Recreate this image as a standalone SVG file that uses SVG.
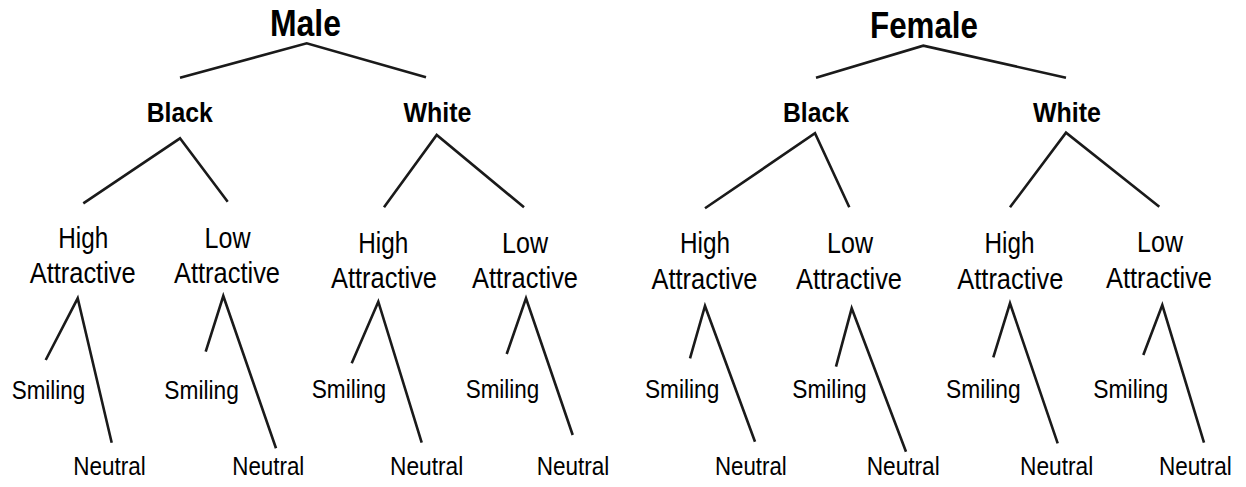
<svg xmlns="http://www.w3.org/2000/svg" width="1246" height="487" viewBox="0 0 1246 487">
<style>
text{font-family:"Liberation Sans",Arial,Helvetica,sans-serif;fill:#000}
.t1{font-size:36px;font-weight:bold;text-anchor:middle}
.t2{font-size:28px;font-weight:bold;text-anchor:middle}
.t3{font-size:29px;text-anchor:middle}
.t4{font-size:26px}
#connectors polyline{fill:none;stroke:#1a1a1a;stroke-width:2.6;stroke-linejoin:miter;stroke-linecap:butt}
</style>
<rect width="1246" height="487" fill="#fff"/>
<g id="connectors">
<polyline points="180,77.7 306.7,43.3 426,77.3"/>
<polyline points="816,77.7 923.3,45.7 1066,77.7"/>
<polyline points="83.3,203.3 180,138.3 227.7,201.7"/>
<polyline points="384,207.3 436.7,135 524,207.3"/>
<polyline points="705,208.3 815,133.3 849.3,207.3"/>
<polyline points="1010,207.3 1066,132.7 1159.3,206.7"/>
<polyline points="45.7,360 77.7,298.3 111.7,442.7"/>
<polyline points="205.7,351.7 223.3,296 276,448.3"/>
<polyline points="351.7,363.3 378.3,301.7 421.7,442.7"/>
<polyline points="506.7,354 526,298.3 572.7,435"/>
<polyline points="690,358.3 705,306 755,441.7"/>
<polyline points="836,366.7 851.7,308.3 906,451.7"/>
<polyline points="993.3,357.3 1010,303.3 1057.7,443.3"/>
<polyline points="1143.3,355 1162.3,305 1204,442.7"/>
</g>
<g id="male"><text class="t1" x="305.5" y="36" textLength="71" lengthAdjust="spacingAndGlyphs">Male</text></g>
<g id="female"><text class="t1" x="924" y="37.5" textLength="108" lengthAdjust="spacingAndGlyphs">Female</text></g>
<g id="male-black"><text class="t2" x="179.7" y="122" textLength="66" lengthAdjust="spacingAndGlyphs">Black</text></g>
<g id="male-white"><text class="t2" x="437.5" y="121.7" textLength="68" lengthAdjust="spacingAndGlyphs">White</text></g>
<g id="female-black"><text class="t2" x="816" y="121.7" textLength="66" lengthAdjust="spacingAndGlyphs">Black</text></g>
<g id="female-white"><text class="t2" x="1067" y="121.7" textLength="68" lengthAdjust="spacingAndGlyphs">White</text></g>
<g id="mb-high"><text class="t3" x="83.3" y="247.7" textLength="50" lengthAdjust="spacingAndGlyphs">High</text><text class="t3" x="82.7" y="283.3" textLength="106" lengthAdjust="spacingAndGlyphs">Attractive</text></g>
<g id="mb-low"><text class="t3" x="227.5" y="248.3" textLength="46" lengthAdjust="spacingAndGlyphs">Low</text><text class="t3" x="227" y="283.3" textLength="106" lengthAdjust="spacingAndGlyphs">Attractive</text></g>
<g id="mw-high"><text class="t3" x="383.3" y="252.7" textLength="50" lengthAdjust="spacingAndGlyphs">High</text><text class="t3" x="384" y="288" textLength="106" lengthAdjust="spacingAndGlyphs">Attractive</text></g>
<g id="mw-low"><text class="t3" x="525" y="252.7" textLength="46" lengthAdjust="spacingAndGlyphs">Low</text><text class="t3" x="525" y="288" textLength="106" lengthAdjust="spacingAndGlyphs">Attractive</text></g>
<g id="fb-high"><text class="t3" x="705" y="253.3" textLength="50" lengthAdjust="spacingAndGlyphs">High</text><text class="t3" x="704.5" y="289.3" textLength="106" lengthAdjust="spacingAndGlyphs">Attractive</text></g>
<g id="fb-low"><text class="t3" x="850" y="253" textLength="46" lengthAdjust="spacingAndGlyphs">Low</text><text class="t3" x="849" y="289" textLength="106" lengthAdjust="spacingAndGlyphs">Attractive</text></g>
<g id="fw-high"><text class="t3" x="1009.5" y="253.3" textLength="50" lengthAdjust="spacingAndGlyphs">High</text><text class="t3" x="1010.3" y="289" textLength="106" lengthAdjust="spacingAndGlyphs">Attractive</text></g>
<g id="fw-low"><text class="t3" x="1160" y="251.7" textLength="46" lengthAdjust="spacingAndGlyphs">Low</text><text class="t3" x="1159" y="287.5" textLength="106" lengthAdjust="spacingAndGlyphs">Attractive</text></g>
<g id="mb-high-smiling"><text class="t4" x="11.7" y="399" textLength="73.5" lengthAdjust="spacingAndGlyphs">Smiling</text></g>
<g id="mb-high-neutral"><text class="t4" x="73.3" y="475" textLength="72.5" lengthAdjust="spacingAndGlyphs">Neutral</text></g>
<g id="mb-low-smiling"><text class="t4" x="164.3" y="399" textLength="74.5" lengthAdjust="spacingAndGlyphs">Smiling</text></g>
<g id="mb-low-neutral"><text class="t4" x="232.3" y="475" textLength="72" lengthAdjust="spacingAndGlyphs">Neutral</text></g>
<g id="mw-high-smiling"><text class="t4" x="311.7" y="398.3" textLength="74.3" lengthAdjust="spacingAndGlyphs">Smiling</text></g>
<g id="mw-high-neutral"><text class="t4" x="390" y="475" textLength="73.3" lengthAdjust="spacingAndGlyphs">Neutral</text></g>
<g id="mw-low-smiling"><text class="t4" x="465.7" y="398.3" textLength="73.6" lengthAdjust="spacingAndGlyphs">Smiling</text></g>
<g id="mw-low-neutral"><text class="t4" x="536.7" y="475" textLength="72.6" lengthAdjust="spacingAndGlyphs">Neutral</text></g>
<g id="fb-high-smiling"><text class="t4" x="645" y="397.5" textLength="74.3" lengthAdjust="spacingAndGlyphs">Smiling</text></g>
<g id="fb-high-neutral"><text class="t4" x="715" y="475" textLength="71.7" lengthAdjust="spacingAndGlyphs">Neutral</text></g>
<g id="fb-low-smiling"><text class="t4" x="792.3" y="397.5" textLength="74.4" lengthAdjust="spacingAndGlyphs">Smiling</text></g>
<g id="fb-low-neutral"><text class="t4" x="866.7" y="475" textLength="73" lengthAdjust="spacingAndGlyphs">Neutral</text></g>
<g id="fw-high-smiling"><text class="t4" x="946" y="398.3" textLength="74.7" lengthAdjust="spacingAndGlyphs">Smiling</text></g>
<g id="fw-high-neutral"><text class="t4" x="1020" y="475" textLength="73.3" lengthAdjust="spacingAndGlyphs">Neutral</text></g>
<g id="fw-low-smiling"><text class="t4" x="1093.3" y="398.3" textLength="75" lengthAdjust="spacingAndGlyphs">Smiling</text></g>
<g id="fw-low-neutral"><text class="t4" x="1159" y="475" textLength="72.7" lengthAdjust="spacingAndGlyphs">Neutral</text></g>
</svg>
